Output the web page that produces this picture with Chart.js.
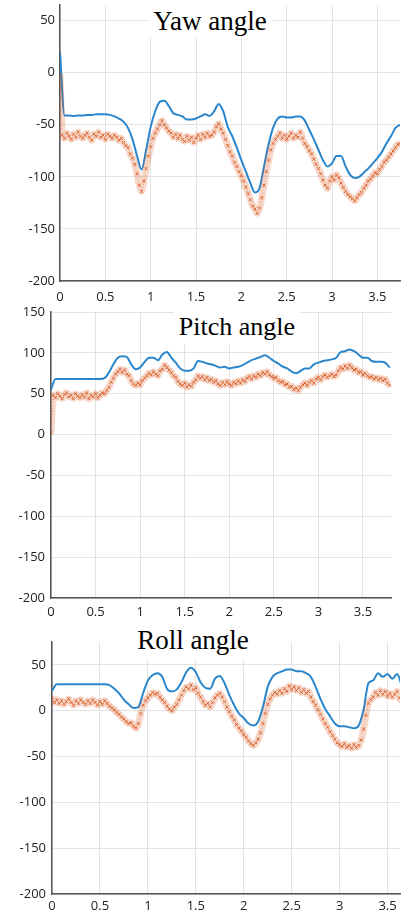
<!DOCTYPE html>
<html lang="en">
<head>
<meta charset="UTF-8">
<title>Yaw / Pitch / Roll angle</title>
<script src="https://cdn.jsdelivr.net/npm/chart.js"></script>
<style>
  * { margin:0; padding:0; box-sizing:border-box; }
  html,body { width:405px; height:914px; overflow:hidden; background:#fff; }
  .panel { position:absolute; left:0; width:405px; background:#fff; }
  .title {
    position:absolute; background:#fff; z-index:5; color:#000;
    font-family:'Liberation Serif','Times New Roman',serif; font-size:27px; line-height:27px;
    text-align:center; white-space:nowrap;
  }
</style>
</head>
<body>

<div class="panel" style="top:0;height:304px"><canvas id="yawChart"></canvas></div>
<div class="panel" style="top:307px;height:311px"><canvas id="pitchChart"></canvas></div>
<div class="panel" style="top:618px;height:296px"><canvas id="rollChart"></canvas></div>

<!-- titles sit on white boxes that hide the grid behind them -->
<div class="title" style="left:148px;top:0;width:124px;height:38px;padding-top:8px">Yaw angle</div>
<div class="title" style="left:174px;top:305px;width:126px;height:40px;padding-top:8px;font-size:26px">Pitch angle</div>
<div class="title" style="left:134px;top:618px;width:118px;height:42px;padding-top:9px">Roll angle</div>

<script>
// sample steps (s)
const dtBlue = 0.05;
const dtRed = 0.025;

const xTicks = [0, 0.5, 1, 1.5, 2, 2.5, 3, 3.5];
const yTicksYaw = [-200, -150, -100, -50, 0, 50];
const yTicksPitch = [-200, -150, -100, -50, 0, 50, 100, 150];
const yTicksRoll = [-200, -150, -100, -50, 0, 50];

// ---- Yaw ----
const yawBlue = [20,-41,-41,-41.5,-41,-41,-40.5,-40.5,-40,-40,-40,-40.5,-42,-44,-47,-53,-64,-80,-93,-74,
  -52,-37,-28,-27,-32,-39,-40.5,-42,-45,-45,-44,-42,-40,-41.5,-37,-30,-37,-52,-61,-72,
  -84,-95,-106,-115,-111,-90,-69,-53,-44,-42,-43,-43,-42,-42,-46,-55,-64,-74,-84,-90,
  -87,-80,-80,-90,-98,-101,-100,-96,-92,-87,-82,-76,-68,-61,-53,-50];
const yawRed = [-2,-60,-63,-58,-61,-64,-59,-62,-57,-61,-63,-60,-58,-62,-65,-59,-61,-57,-62,-60,
  -64,-59,-61,-63,-60,-62,-65,-63,-67,-70,-72,-78,-82,-88,-97,-108,-114,-104,-92,-80,
  -71,-63,-58,-54,-50,-46,-50,-53,-56,-58,-62,-59,-63,-60,-64,-66,-61,-65,-62,-67,
  -63,-60,-64,-59,-62,-58,-61,-60,-57,-52,-49,-54,-58,-64,-70,-76,-80,-86,-90,-95,
  -99,-104,-110,-116,-122,-128,-131,-135,-130,-120,-108,-95,-84,-74,-68,-64,-61,-58,-63,-60,
  -64,-61,-58,-63,-60,-62,-57,-63,-68,-71,-75,-78,-83,-88,-92,-97,-103,-108,-111,-104,
  -100,-103,-98,-101,-106,-110,-114,-117,-119,-121,-123,-120,-117,-115,-111,-108,-104,-102,-99,-96,
  -97,-93,-90,-86,-84,-81,-78,-75,-72,-69,-68];

// ---- Pitch ----
const pitchBlue = [55,68,68,68,68,68,68,68,68,68,68,68,69,76,86,94,96,95,86,80,
  82,89,94,94,91,98,101,94,88,81,78,78,81,90,89,87,86,84,82,83,
  81,82,83,85,88,91,93,95,97,94,90,87,83,81,77,75,78,81,81,86,
  88,90,91,92,94,101,102,104,102,98,94,94,90,89,89,88,82];
const pitchRed = [2,48,45,50,47,44,49,51,46,48,44,50,47,45,49,46,51,44,48,46,
  50,45,48,51,50,54,58,64,69,74,77,80,76,79,74,72,66,62,60,63,
  61,66,69,72,75,73,77,74,72,78,80,85,82,79,76,72,70,65,62,60,
  63,58,61,59,64,67,72,69,71,67,70,66,68,64,66,62,60,64,61,65,
  62,60,64,62,66,63,67,65,69,71,68,72,70,74,72,76,74,77,73,71,
  69,70,66,64,65,61,62,58,59,55,57,54,58,61,63,60,64,66,63,68,
  70,67,71,73,70,72,74,71,73,78,82,80,84,81,85,82,79,80,76,77,
  73,75,72,70,71,68,70,67,69,66,68,63,60];

// ---- Roll ----
const rollBlue = [22,29,29,29,29,29,29,29,29,29,29,29,28,24,19,12,7,3,4,19,
  33,39,41,37,24,21,23,31,42,47,42,31,25,24,35,38,30,17,6,-3,
  -8,-14,-16,-12,4,26,37,41,43,45,45,43,43,41,37,26,13,2,-6,-14,
  -17,-17,-18,-19,-16,1,30,33,41,37,40,35,40,27];
const rollRed = [14,9,12,8,11,7,10,13,9,6,11,8,12,9,7,11,8,12,9,6,
  10,7,11,8,5,3,1,-2,-4,-7,-9,-12,-14,-13,-17,-19,-14,-3,6,11,
  14,17,20,18,19,15,12,9,5,2,0,4,7,12,17,22,26,24,28,23,
  25,19,15,10,6,8,4,9,14,17,19,15,10,4,-1,-6,-10,-15,-19,-22,
  -26,-29,-33,-36,-38,-35,-31,-24,-14,-3,7,13,17,20,18,22,19,24,21,27,
  23,26,22,25,20,23,19,21,15,10,6,1,-4,-9,-14,-18,-23,-27,-31,-35,
  -37,-39,-36,-40,-38,-41,-37,-40,-38,-32,-20,-5,8,12,15,20,17,22,18,21,
  16,19,15,18,21,14,10];

function toPoints(arr, step) {
  return arr.map((v, i) => ({ x: +(i * step).toFixed(3), y: v }));
}

function makeChart(id, blue, red, o) {
  const tickFont = { family: "'Open Sans', 'DejaVu Sans', sans-serif", size: 13 };
  return new Chart(document.getElementById(id), {
    type: 'line',
    data: {
      datasets: [
        // faint wide trace under the speckles gives the noisy band its width
        { data: toPoints(red, dtRed), borderColor: 'rgba(217,83,25,0.22)', borderWidth: 7,
          pointRadius: 0, tension: 0.2 },
        { data: toPoints(red, dtRed), showLine: true,
          borderColor: 'rgba(217,83,25,0.5)', borderWidth: 1, borderDash: [1, 2],
          pointStyle: 'crossRot', pointRadius: 2.2, pointBorderWidth: 1,
          pointBorderColor: 'rgba(217,83,25,0.85)', tension: 0 },
        { data: toPoints(blue, dtBlue), borderColor: '#2a86cc', borderWidth: 2,
          pointRadius: 0, cubicInterpolationMode: 'monotone' }
      ]
    },
    options: {
      responsive: true, maintainAspectRatio: false, animation: false, events: [],
      layout: { padding: { top: o.padTop, right: o.padRight, left: 0, bottom: 0 } },
      plugins: { legend: { display: false }, tooltip: { enabled: false } },
      scales: {
        x: {
          type: 'linear', min: 0, max: o.xMax,
          afterBuildTicks: s => { s.ticks = xTicks.map(v => ({ value: v })); },
          afterFit: s => { s.height = o.xH; s.paddingLeft = 0; s.paddingRight = 0; },
          grid: { color: '#e3e3e3', drawTicks: false },
          border: { color: '#555', width: 1.5 },
          ticks: { padding: o.xPad, color: '#222', font: tickFont, maxRotation: 0, autoSkip: false,
                   callback: v => String(v) }
        },
        y: {
          type: 'linear', min: o.yMin, max: o.yMax,
          afterBuildTicks: s => { s.ticks = o.yTicks.map(v => ({ value: v })); },
          afterFit: s => { s.width = o.yW; s.paddingTop = 0; s.paddingBottom = 0; },
          grid: { color: '#e3e3e3', drawTicks: false },
          border: { color: '#555', width: 1.5 },
          ticks: { padding: o.yPad, color: '#222', font: tickFont, callback: v => String(v) }
        }
      }
    }
  });
}

makeChart('yawChart', yawBlue, yawRed,
  { xMax: 3.75, yMin: -200, yMax: 65, yTicks: yTicksYaw, padTop: 4, padRight: 4, yW: 60, yPad: 5, xH: 23, xPad: 8 });
makeChart('pitchChart', pitchBlue, pitchRed,
  { xMax: 3.815, yMin: -200, yMax: 150, yTicks: yTicksPitch, padTop: 2, padRight: 14, yW: 51, yPad: 6, xH: 20, xPad: 6 });
makeChart('rollChart', rollBlue, rollRed,
  { xMax: 3.63, yMin: -200, yMax: 75, yTicks: yTicksRoll, padTop: 24, padRight: 0, yW: 52, yPad: 6, xH: 20, xPad: 4 });
</script>
</body>
</html>
